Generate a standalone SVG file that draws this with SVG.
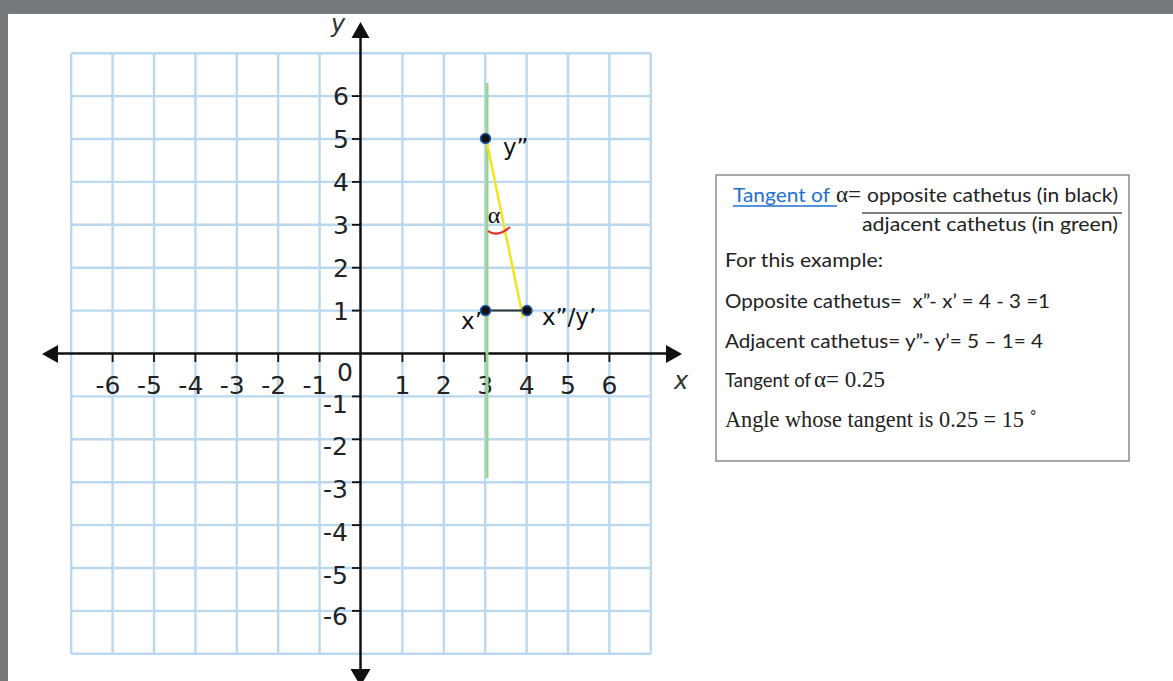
<svg xmlns="http://www.w3.org/2000/svg" width="1173" height="681" viewBox="0 0 1173 681">
<defs>
<style>
.grid line{stroke:#bad8ef;stroke-width:2.4}
.axis{stroke:#111;stroke-width:2.5;fill:none}
.tick{stroke:#111;stroke-width:1.8}
.num{font-family:"DejaVu Sans",Verdana,sans-serif;font-size:25px;fill:#222}
.lab{font-family:"DejaVu Sans",Verdana,sans-serif;font-size:23px;fill:#111}
.ax{font-family:"DejaVu Sans",sans-serif;font-style:italic;font-size:24px;fill:#333}
.box{font-family:Lato,"Liberation Sans",sans-serif;font-size:20px;fill:#222;white-space:pre}
.ser{font-family:"Liberation Serif",serif;font-size:23px;fill:#222;white-space:pre}
.pt{fill:#111;stroke:#1f5fa8;stroke-width:1.5}
</style>
</defs>
<rect width="1173" height="681" fill="#ffffff"/>
<rect x="0" y="0" width="1173" height="14" fill="#76797c"/>
<rect x="0" y="0" width="8" height="681" fill="#76797c"/>

<g id="grid" class="grid">
<line x1="71.2" y1="53.2" x2="71.2" y2="653.8"/>
<line x1="112.6" y1="53.2" x2="112.6" y2="653.8"/>
<line x1="154" y1="53.2" x2="154" y2="653.8"/>
<line x1="195.4" y1="53.2" x2="195.4" y2="653.8"/>
<line x1="236.8" y1="53.2" x2="236.8" y2="653.8"/>
<line x1="278.2" y1="53.2" x2="278.2" y2="653.8"/>
<line x1="319.6" y1="53.2" x2="319.6" y2="653.8"/>
<line x1="402.4" y1="53.2" x2="402.4" y2="653.8"/>
<line x1="443.8" y1="53.2" x2="443.8" y2="653.8"/>
<line x1="485.2" y1="53.2" x2="485.2" y2="653.8"/>
<line x1="526.6" y1="53.2" x2="526.6" y2="653.8"/>
<line x1="568" y1="53.2" x2="568" y2="653.8"/>
<line x1="609.4" y1="53.2" x2="609.4" y2="653.8"/>
<line x1="650.8" y1="53.2" x2="650.8" y2="653.8"/>
<line x1="71.2" y1="53.2" x2="650.8" y2="53.2"/>
<line x1="71.2" y1="96.1" x2="650.8" y2="96.1"/>
<line x1="71.2" y1="139" x2="650.8" y2="139"/>
<line x1="71.2" y1="181.9" x2="650.8" y2="181.9"/>
<line x1="71.2" y1="224.8" x2="650.8" y2="224.8"/>
<line x1="71.2" y1="267.7" x2="650.8" y2="267.7"/>
<line x1="71.2" y1="310.6" x2="650.8" y2="310.6"/>
<line x1="71.2" y1="396.4" x2="650.8" y2="396.4"/>
<line x1="71.2" y1="439.3" x2="650.8" y2="439.3"/>
<line x1="71.2" y1="482.2" x2="650.8" y2="482.2"/>
<line x1="71.2" y1="525.1" x2="650.8" y2="525.1"/>
<line x1="71.2" y1="568" x2="650.8" y2="568"/>
<line x1="71.2" y1="610.9" x2="650.8" y2="610.9"/>
<line x1="71.2" y1="653.8" x2="650.8" y2="653.8"/>
</g>

<g id="axes">
<line class="axis" x1="57" y1="353.5" x2="667" y2="353.5"/>
<polygon points="42,354 58,345 58,363" fill="#111"/>
<polygon points="682,354 666,345 666,363" fill="#111"/>
<line class="axis" x1="360.5" y1="36" x2="360.5" y2="672"/>
<polygon points="360.5,22 351.5,38 369.5,38" fill="#111"/>
<polygon points="360.5,686 350.5,669 370.5,669" fill="#111"/>
<g class="tick">
<line x1="112.6" y1="353.5" x2="112.6" y2="362"/>
<line x1="154" y1="353.5" x2="154" y2="362"/>
<line x1="195.4" y1="353.5" x2="195.4" y2="362"/>
<line x1="236.8" y1="353.5" x2="236.8" y2="362"/>
<line x1="278.2" y1="353.5" x2="278.2" y2="362"/>
<line x1="319.6" y1="353.5" x2="319.6" y2="362"/>
<line x1="402.4" y1="353.5" x2="402.4" y2="362"/>
<line x1="443.8" y1="353.5" x2="443.8" y2="362"/>
<line x1="485.2" y1="353.5" x2="485.2" y2="362"/>
<line x1="526.6" y1="353.5" x2="526.6" y2="362"/>
<line x1="568" y1="353.5" x2="568" y2="362"/>
<line x1="609.4" y1="353.5" x2="609.4" y2="362"/>
<line x1="352" y1="96.1" x2="360.5" y2="96.1"/>
<line x1="352" y1="139" x2="360.5" y2="139"/>
<line x1="352" y1="181.9" x2="360.5" y2="181.9"/>
<line x1="352" y1="224.8" x2="360.5" y2="224.8"/>
<line x1="352" y1="267.7" x2="360.5" y2="267.7"/>
<line x1="352" y1="310.6" x2="360.5" y2="310.6"/>
<line x1="352" y1="396.4" x2="360.5" y2="396.4"/>
<line x1="352" y1="439.3" x2="360.5" y2="439.3"/>
<line x1="352" y1="482.2" x2="360.5" y2="482.2"/>
<line x1="352" y1="525.1" x2="360.5" y2="525.1"/>
<line x1="352" y1="568" x2="360.5" y2="568"/>
<line x1="352" y1="610.9" x2="360.5" y2="610.9"/>
</g>
<g class="num" text-anchor="end">
<text x="120.5" y="394">-6</text>
<text x="161.9" y="394">-5</text>
<text x="203.3" y="394">-4</text>
<text x="244.7" y="394">-3</text>
<text x="286.1" y="394">-2</text>
<text x="327.5" y="394">-1</text>
<text x="349" y="105">6</text>
<text x="349" y="148">5</text>
<text x="349" y="191">4</text>
<text x="349" y="234">3</text>
<text x="349" y="277">2</text>
<text x="349" y="319.6">1</text>
<text x="348" y="413">-1</text>
<text x="348" y="455">-2</text>
<text x="348" y="498">-3</text>
<text x="348" y="541">-4</text>
<text x="348" y="584">-5</text>
<text x="348" y="625">-6</text>
</g>
<g class="num" text-anchor="middle">
<text x="345" y="381">0</text>
<text x="402.4" y="394">1</text>
<text x="443.8" y="394">2</text>
<text x="485.2" y="394">3</text>
<text x="526.6" y="394">4</text>
<text x="568" y="394">5</text>
<text x="609.4" y="394">6</text>
</g>
<text class="ax" x="681" y="389" text-anchor="middle">x</text>
<text class="ax" x="338" y="32" text-anchor="middle">y</text>
</g>

<g id="connectors">
<line x1="487" y1="83" x2="487" y2="478" stroke="#9bd58a" stroke-width="3"/>
<line x1="486" y1="138" x2="523" y2="318" stroke="#f4e41c" stroke-width="2.5"/>
<line x1="485.2" y1="310.6" x2="526.6" y2="310.6" stroke="#333" stroke-width="2"/>
<path d="M 488 231 Q 497 238 510 227" stroke="#e3302a" stroke-width="2.2" fill="none"/>
</g>

<g id="point-y2">
<circle class="pt" cx="485.5" cy="138.5" r="5"/>
<text class="lab" x="503" y="155">y”</text>
</g>
<g id="point-x1">
<circle class="pt" cx="485.5" cy="310.6" r="5"/>
<text class="lab" x="482" y="329" text-anchor="end">x’</text>
</g>
<g id="point-x2y1">
<circle class="pt" cx="527" cy="310.6" r="5"/>
<text class="lab" x="542" y="325">x”/y’</text>
</g>
<g id="alpha">
<text x="494" y="223" text-anchor="middle" font-family="Liberation Serif,serif" font-size="24" fill="#111">α</text>
</g>

<g id="textbox">
<rect x="716" y="175" width="413" height="286" fill="#fff" stroke="#8c8c8c" stroke-width="1.5"/>
<text class="box" x="733" y="202" style="fill:#1f6fd1" textLength="97" lengthAdjust="spacingAndGlyphs">Tangent of</text>
<line x1="733" y1="206" x2="837" y2="206" stroke="#1f6fd1" stroke-width="1.3"/>
<text class="ser" x="836" y="202">α=</text>
<text class="box" x="867" y="202" textLength="251" lengthAdjust="spacingAndGlyphs">opposite cathetus (in black)</text>
<line x1="862" y1="213" x2="1122" y2="213" stroke="#555" stroke-width="1.3"/>
<text class="box" x="862" y="231" textLength="256" lengthAdjust="spacingAndGlyphs">adjacent cathetus (in green)</text>
<text class="box" x="725" y="267" textLength="158" lengthAdjust="spacingAndGlyphs">For this example:</text>
<text class="box" x="725" y="308" textLength="325" lengthAdjust="spacingAndGlyphs">Opposite cathetus=  x”- x’ = 4 - 3 =1</text>
<text class="box" x="725" y="348" textLength="318" lengthAdjust="spacingAndGlyphs">Adjacent cathetus= y”- y’= 5 – 1= 4</text>
<text class="box" x="725" y="387" textLength="86" lengthAdjust="spacingAndGlyphs">Tangent of</text>
<text class="ser" x="814" y="387">α= 0.25</text>
<text class="ser" x="725" y="427" textLength="312" lengthAdjust="spacingAndGlyphs">Angle whose tangent is 0.25 = 15 ˚</text>
</g>
</svg>
